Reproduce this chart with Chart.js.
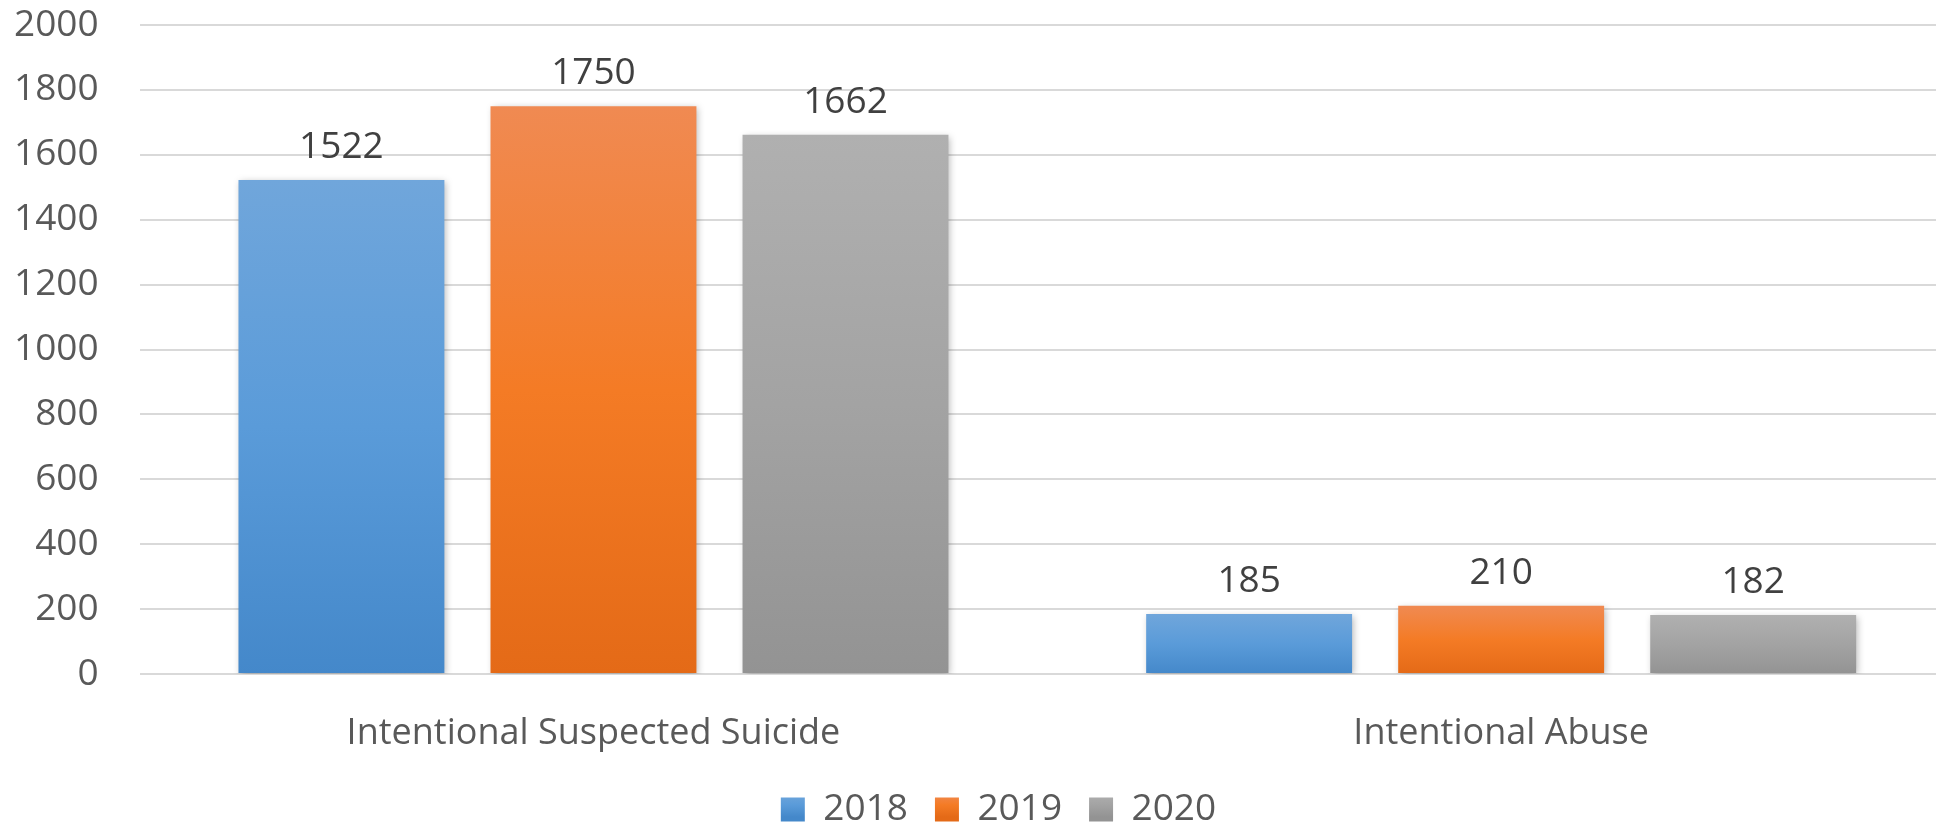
<!DOCTYPE html>
<html>
<head>
<meta charset="utf-8">
<script src="https://cdn.jsdelivr.net/npm/chart.js@4/dist/chart.umd.min.js"></script>
<style>
  html, body { margin: 0; padding: 0; background: #ffffff; }
  #wrap { width: 1936px; height: 822px; overflow: hidden; position: relative; }
  canvas { display: block; }
</style>
</head>
<body>
<div id="wrap"><canvas id="c" width="1956" height="822"></canvas></div>
<script>
const categories = ["Intentional Suspected Suicide", "Intentional Abuse"];
const seriesNames = ["2018", "2019", "2020"];
const values2018 = [1522, 185];
const values2019 = [1750, 210];
const values2020 = [1662, 182];
const yTicks = [0, 200, 400, 600, 800, 1000, 1200, 1400, 1600, 1800, 2000];

const palettes = [
  ["#70A6DB", "#5A9BD9", "#4488CA"],
  ["#F08A52", "#F47B25", "#E46A17"],
  ["#B0B0B0", "#A3A3A3", "#939393"]
];
const FONT = "'Open Sans', 'DejaVu Sans', sans-serif";

function barGradient(idx) {
  return function(ctx) {
    const chart = ctx.chart;
    const pal = palettes[idx];
    if (!chart.chartArea || ctx.type !== 'data') return pal[1];
    const y = chart.scales.y;
    const top = y.getPixelForValue(ctx.parsed ? ctx.parsed.y : ctx.raw);
    const bottom = y.getPixelForValue(0);
    const g = chart.ctx.createLinearGradient(0, top, 0, bottom);
    g.addColorStop(0, pal[0]);
    g.addColorStop(0.5, pal[1]);
    g.addColorStop(1, pal[2]);
    return g;
  };
}

const shadowPlugin = {
  id: 'shadow',
  beforeDatasetsDraw(chart) {
    const c = chart.ctx;
    c.save();
    c.shadowColor = 'rgba(0,0,0,0.28)';
    c.shadowBlur = 7;
    c.shadowOffsetX = 2;
    c.shadowOffsetY = 2;
  },
  afterDatasetsDraw(chart) {
    chart.ctx.restore();
  }
};

const valueLabels = {
  id: 'valueLabels',
  afterDraw(chart) {
    const c = chart.ctx;
    c.save();
    c.font = "37px " + FONT;
    c.fillStyle = '#404040';
    c.textAlign = 'center';
    c.textBaseline = 'alphabetic';
    chart.data.datasets.forEach((ds, i) => {
      const meta = chart.getDatasetMeta(i);
      meta.data.forEach((el, j) => {
        c.fillText(String(ds.data[j]), el.x, el.y - 22);
      });
    });
    c.restore();
  }
};

const legendTweak = {
  id: 'legendTweak',
  beforeLayout(chart) {
    const lg = chart.legend;
    if (lg && !lg._patched) {
      const orig = lg.fit;
      lg.fit = function() { orig.call(this); this.height = 70; };
      lg._patched = true;
    }
  },
  afterLayout(chart) {
    const lg = chart.legend;
    if (lg) { lg.left += 14; lg.right += 14; lg.top += 12; lg.bottom += 12; }
  }
};

const datasets = [values2018, values2019, values2020].map((vals, i) => ({
  label: seriesNames[i],
  data: vals,
  backgroundColor: barGradient(i),
  borderWidth: 0,
  categoryPercentage: 0.833,
  barPercentage: 0.817
}));

new Chart(document.getElementById('c'), {
  type: 'bar',
  data: { labels: categories, datasets },
  options: {
    responsive: false,
    animation: false,
    devicePixelRatio: 1,
    layout: { padding: { left: 14, right: 1, top: 25, bottom: 0 } },
    scales: {
      x: {
        afterFit(axis) { axis.height = 78; },
        grid: { display: false, drawTicks: false },
        border: { display: false },
        ticks: { color: '#595959', font: { family: FONT, size: 36, lineHeight: 1.44 }, padding: 34 }
      },
      y: {
        min: 0, max: 2000,
        afterBuildTicks(axis) { axis.ticks = yTicks.map(v => ({ value: v })); },
        grid: { color: '#D9D9D9', lineWidth: 2, drawTicks: true, tickLength: 41, tickColor: 'rgba(0,0,0,0)' },
        border: { display: false },
        ticks: { color: '#595959', font: { family: FONT, size: 37 }, padding: 0, callback: v => String(v) }
      }
    },
    plugins: {
      tooltip: { enabled: false },
      legend: {
        position: 'bottom',
        labels: {
          color: '#595959',
          font: { family: FONT, size: 37 },
          boxWidth: 24,
          boxHeight: 24,
          padding: 27,
          generateLabels(chart) {
            const items = Chart.defaults.plugins.legend.labels.generateLabels(chart);
            const h = chart.height;
            items.forEach((it, i) => {
              const pal = palettes[i];
              const g = chart.ctx.createLinearGradient(0, h - 29, 0, h - 5);
              g.addColorStop(0, pal[0]);
              g.addColorStop(0.5, pal[1]);
              g.addColorStop(1, pal[2]);
              it.fillStyle = g;
              it.strokeStyle = 'rgba(0,0,0,0)';
              it.lineWidth = 0;
            });
            return items;
          }
        }
      }
    }
  },
  plugins: [shadowPlugin, valueLabels, legendTweak]
});
</script>
</body>
</html>
